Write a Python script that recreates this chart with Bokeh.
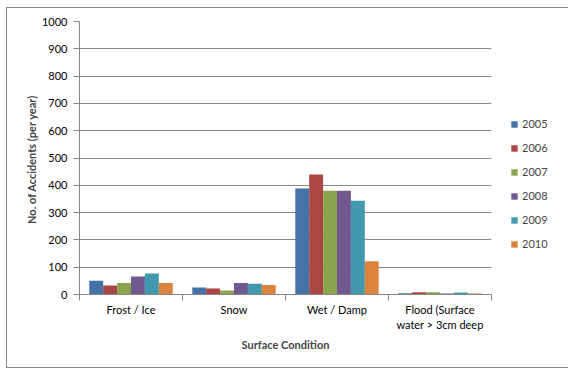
import numpy as np
from bokeh.plotting import figure
from bokeh.models import FixedTicker, Range1d, Legend, LegendItem, ColumnDataSource
from bokeh.embed import file_html
from bokeh.resources import INLINE

categories = ["Frost / Ice", "Snow", "Wet / Damp", "Flood (Surface\nwater > 3cm deep"]
years = ["2005", "2006", "2007", "2008", "2009", "2010"]
v2005 = [50, 26, 388, 5]
v2006 = [33, 22, 440, 8]
v2007 = [42, 15, 380, 8]
v2008 = [66, 42, 380, 4]
v2009 = [77, 39, 343, 7]
v2010 = [42, 35, 122, 4]
series = [v2005, v2006, v2007, v2008, v2009, v2010]
colors = ["#4572A7", "#AA4643", "#89A54E", "#71588F", "#4198AF", "#DB843D"]

FONT = "Lato"
GRID = "#868686"

p = figure(frame_width=412, frame_height=273, output_backend="svg", toolbar_location=None,
           x_range=Range1d(0, 4), y_range=Range1d(0, 1000),
           min_border_left=72, min_border_right=40, min_border_top=13, min_border_bottom=73)
p.styles = {"border": "1px solid #868686", "margin-left": "6px", "margin-top": "7px"}
p.outline_line_color = None
p.background_fill_color = "white"
p.border_fill_color = "white"

w = 0.135
items = []
for j, (yr, vals, c) in enumerate(zip(years, series, colors)):
    xs = np.arange(len(categories)) + 0.5 + (j - 2.5) * w
    src = ColumnDataSource(dict(x=xs, top=vals))
    r = p.vbar(x="x", top="top", width=w, source=src, fill_color=c, line_color=None)
    items.append(LegendItem(label=yr, renderers=[r]))

legend = Legend(items=items, location=(19, 44), label_text_font=FONT,
                label_text_font_size="11px", glyph_width=8, glyph_height=8,
                label_height=11, spacing=11, padding=0, border_line_color=None,
                label_standoff=4, background_fill_alpha=0, margin=0)
p.add_layout(legend, "right")

# x axis
p.xaxis.ticker = FixedTicker(ticks=[0.5, 1.5, 2.5, 3.5], minor_ticks=[0, 1, 2, 3, 4])
p.xaxis.major_label_overrides = {0.5: categories[0], 1.5: categories[1],
                                 2.5: categories[2], 3.5: categories[3]}
p.xaxis.major_tick_line_color = None
p.xaxis.minor_tick_line_color = GRID
p.xaxis.minor_tick_out = 6
p.xaxis.minor_tick_in = 0
p.xaxis.axis_line_color = GRID
p.xaxis.major_label_text_font = FONT
p.xaxis.major_label_text_font_size = "11px"
p.xaxis.major_label_text_color = "black"
p.xaxis.major_label_standoff = 2
p.xaxis.axis_label = "Surface Condition"
p.xaxis.axis_label_text_font = FONT
p.xaxis.axis_label_text_font_size = "11px"
p.xaxis.axis_label_text_font_style = "bold"
p.xaxis.axis_label_standoff = 4
p.xgrid.visible = False

# y axis
p.yaxis.ticker = FixedTicker(ticks=list(range(0, 1001, 100)))
p.yaxis.axis_line_color = GRID
p.yaxis.major_tick_line_color = GRID
p.yaxis.major_tick_out = 6
p.yaxis.major_tick_in = 0
p.yaxis.minor_tick_line_color = None
p.yaxis.major_label_text_font = FONT
p.yaxis.major_label_text_font_size = "11px"
p.yaxis.major_label_text_color = "black"
p.yaxis.major_label_standoff = 6
p.yaxis.axis_label = "No. of Accidents  (per year)"
p.yaxis.axis_label_text_font = FONT
p.yaxis.axis_label_text_font_size = "11px"
p.yaxis.axis_label_text_font_style = "bold"
p.yaxis.axis_label_standoff = 1
p.ygrid.grid_line_color = GRID
p.ygrid.grid_line_width = 1

open("out.html", "w").write(file_html(p, INLINE))
